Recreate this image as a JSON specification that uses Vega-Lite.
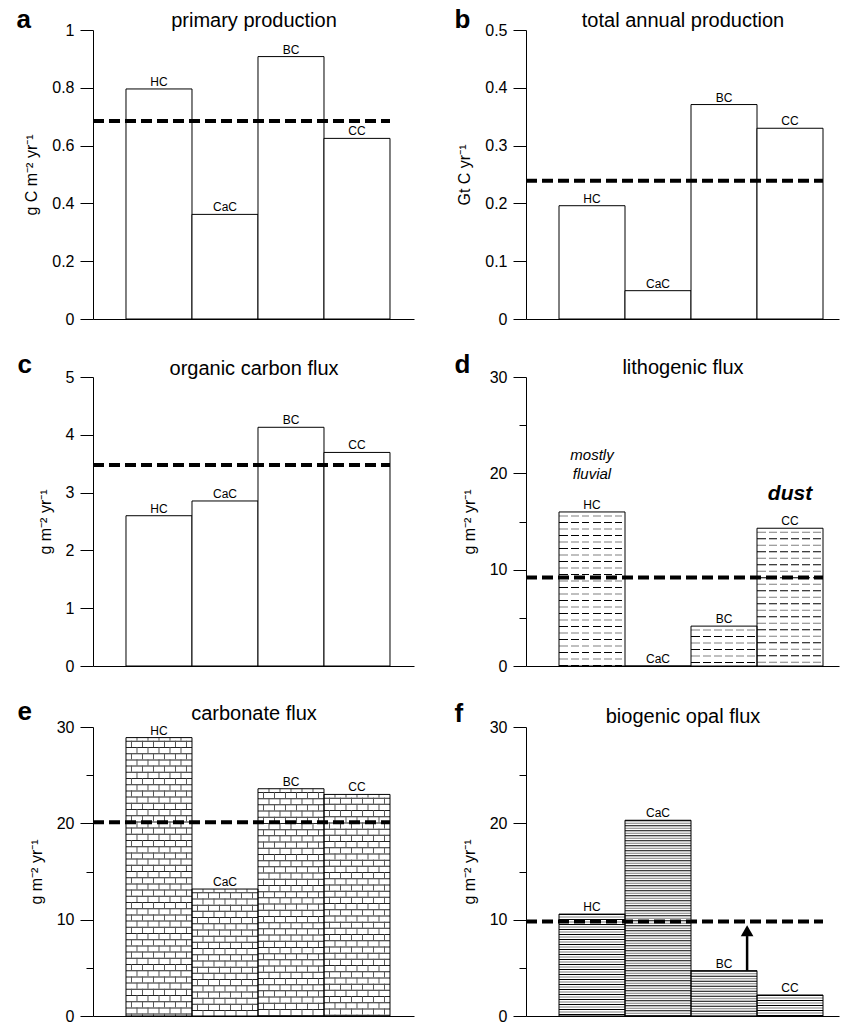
{
"$schema":"https://vega.github.io/schema/vega-lite/v6.json",
"background":"white",
"padding":{"left":16,"top":6,"right":5,"bottom":0},
"config":{"view":{"stroke":null},"font":"Liberation Sans","axis":{"grid":false}},
"datasets":{
"a":[{"cat":"HC","value":0.796},{"cat":"CaC","value":0.362},{"cat":"BC","value":0.908},{"cat":"CC","value":0.625}],
"a_mean":[{"mean":0.685,"from":"HC","to":"CC"}],
"b":[{"cat":"HC","value":0.196},{"cat":"CaC","value":0.049},{"cat":"BC","value":0.371},{"cat":"CC","value":0.330}],
"b_mean":[{"mean":0.239,"from":"HC","to":"CC"}],
"c":[{"cat":"HC","value":2.60},{"cat":"CaC","value":2.855},{"cat":"BC","value":4.13},{"cat":"CC","value":3.695}],
"c_mean":[{"mean":3.477,"from":"HC","to":"CC"}],
"d":[{"cat":"HC","value":15.99},{"cat":"CaC","value":0},{"cat":"BC","value":4.14},{"cat":"CC","value":14.3}],
"d_mean":[{"mean":9.18,"from":"HC","to":"CC"}],
"d_fluvial":[{"cat":"HC","y":21.38,"note":"mostly\nfluvial"}],
"d_dust":[{"cat":"CC","y":17.26,"note":"dust"}],
"e":[{"cat":"HC","value":28.9},{"cat":"CaC","value":13.18},{"cat":"BC","value":23.59},{"cat":"CC","value":23.0}],
"e_mean":[{"mean":20.12,"from":"HC","to":"CC"}],
"f":[{"cat":"HC","value":10.58},{"cat":"CaC","value":20.32},{"cat":"BC","value":4.71},{"cat":"CC","value":2.18}],
"f_mean":[{"mean":9.81,"from":"HC","to":"CC"}],
"f_arrow":[{"cat":"BC","from":4.71,"to":8.3,"head":8.85}]
},
"spacing":24,
"vconcat":[
{"hconcat":[
{"width":321,"height":289,"resolve":{"axis":{"x":"independent"}},
"layer":[
{"layer":[
{"data":{"name":"a"},"mark":{"type":"bar","fill":"white","stroke":"black","strokeWidth":1},
"encoding":{"x":{"field":"cat","type":"nominal","scale":{"domain":["HC","CaC","BC","CC"],"paddingInner":0,"paddingOuter":0.4318,"align":0.5789},
"axis":{"orient":"bottom","labels":false,"ticks":false,"domain":true,"domainColor":"black","domainWidth":1,"title":"a","titleX":-77,"titleY":-292,"titleAlign":"left","titleAngle":0,"titleBaseline":"alphabetic","titleFontSize":26,"titleFontWeight":"bold","titleColor":"black"}},
"y":{"field":"value","type":"quantitative","scale":{"domain":[0,1],"nice":false},
"axis":{"values":[0,0.1,0.2,0.3,0.4,0.5,0.6,0.7,0.8,0.9,1],"format":"~g","labelExpr":"round(datum.value*10)%2==0 ? datum.label : ''","labelOverlap":false,"labelFlush":false,"tickSize":{"condition":{"test":"round(datum.value*10)%2==0","value":13},"value":7},"tickColor":"black","tickWidth":1,"domainColor":"black","labelPadding":6,"labelFontSize":16,"labelColor":"black","title":"g C m⁻² yr⁻¹","titleFontSize":16,"titleFontWeight":"normal","titleColor":"black","titlePadding":12}}}},
{"data":{"name":"a_mean"},"mark":{"type":"rule","stroke":"black","strokeWidth":4,"strokeDash":[11,5]},
"encoding":{"x":{"field":"from","type":"nominal","bandPosition":-0.5,"scale":{"domain":["HC","CaC","BC","CC"],"paddingInner":0,"paddingOuter":0.4318,"align":0.5789}},"x2":{"field":"to","bandPosition":1},"y":{"field":"mean","type":"quantitative"}}}
]},
{"data":{"name":"a"},"mark":{"type":"text","fontSize":12,"baseline":"alphabetic","dy":-3,"color":"black"},
"encoding":{"x":{"field":"cat","type":"nominal","scale":{"domain":["HC","CaC","BC","CC"],"paddingInner":0,"paddingOuter":0.4318,"align":0.5789},"axis":{"orient":"top","labels":false,"ticks":false,"domain":false,"title":"primary production","titleFontSize":20,"titleFontWeight":"normal","titleColor":"black","titleBaseline":"alphabetic","titlePadding":4}},"y":{"field":"value","type":"quantitative"},"text":{"field":"cat"}}}
]},
{"width":313,"height":289,"resolve":{"axis":{"x":"independent"}},
"layer":[
{"layer":[
{"data":{"name":"b"},"mark":{"type":"bar","fill":"white","stroke":"black","strokeWidth":1},
"encoding":{"x":{"field":"cat","type":"nominal","scale":{"domain":["HC","CaC","BC","CC"],"paddingInner":0,"paddingOuter":0.3712,"align":0.6735},
"axis":{"orient":"bottom","labels":false,"ticks":false,"domain":true,"domainColor":"black","domainWidth":1,"title":"b","titleX":-72,"titleY":-292,"titleAlign":"left","titleAngle":0,"titleBaseline":"alphabetic","titleFontSize":26,"titleFontWeight":"bold","titleColor":"black"}},
"y":{"field":"value","type":"quantitative","scale":{"domain":[0,0.5],"nice":false},
"axis":{"values":[0,0.05,0.1,0.15,0.2,0.25,0.3,0.35,0.4,0.45,0.5],"format":"~g","labelExpr":"round(datum.value*20)%2==0 ? datum.label : ''","labelOverlap":false,"labelFlush":false,"tickSize":{"condition":{"test":"round(datum.value*20)%2==0","value":13},"value":7},"tickColor":"black","tickWidth":1,"domainColor":"black","labelPadding":6,"labelFontSize":16,"labelColor":"black","title":"Gt C yr⁻¹","titleFontSize":16,"titleFontWeight":"normal","titleColor":"black","titlePadding":12}}}},
{"data":{"name":"b_mean"},"mark":{"type":"rule","stroke":"black","strokeWidth":4,"strokeDash":[11,5]},
"encoding":{"x":{"field":"from","type":"nominal","bandPosition":-0.5,"scale":{"domain":["HC","CaC","BC","CC"],"paddingInner":0,"paddingOuter":0.3712,"align":0.6735}},"x2":{"field":"to","bandPosition":1},"y":{"field":"mean","type":"quantitative"}}}
]},
{"data":{"name":"b"},"mark":{"type":"text","fontSize":12,"baseline":"alphabetic","dy":-3,"color":"black"},
"encoding":{"x":{"field":"cat","type":"nominal","scale":{"domain":["HC","CaC","BC","CC"],"paddingInner":0,"paddingOuter":0.3712,"align":0.6735},"axis":{"orient":"top","labels":false,"ticks":false,"domain":false,"title":"total annual production","titleFontSize":20,"titleFontWeight":"normal","titleColor":"black","titleBaseline":"alphabetic","titlePadding":4}},"y":{"field":"value","type":"quantitative"},"text":{"field":"cat"}}}
]}
],"spacing":40},
{"hconcat":[
{"width":321,"height":289,"resolve":{"axis":{"x":"independent"}},
"layer":[
{"layer":[
{"data":{"name":"c"},"mark":{"type":"bar","fill":"white","stroke":"black","strokeWidth":1},
"encoding":{"x":{"field":"cat","type":"nominal","scale":{"domain":["HC","CaC","BC","CC"],"paddingInner":0,"paddingOuter":0.4318,"align":0.5789},
"axis":{"orient":"bottom","labels":false,"ticks":false,"domain":true,"domainColor":"black","domainWidth":1,"title":"c","titleX":-76,"titleY":-294,"titleAlign":"left","titleAngle":0,"titleBaseline":"alphabetic","titleFontSize":26,"titleFontWeight":"bold","titleColor":"black"}},
"y":{"field":"value","type":"quantitative","scale":{"domain":[0,5],"nice":false},
"axis":{"values":[0,0.5,1,1.5,2,2.5,3,3.5,4,4.5,5],"format":"~g","labelExpr":"round(datum.value*2)%2==0 ? datum.label : ''","labelOverlap":false,"labelFlush":false,"tickSize":{"condition":{"test":"round(datum.value*2)%2==0","value":13},"value":7},"tickColor":"black","tickWidth":1,"domainColor":"black","labelPadding":6,"labelFontSize":16,"labelColor":"black","title":"g m⁻² yr⁻¹","titleFontSize":16,"titleFontWeight":"normal","titleColor":"black","titlePadding":12}}}},
{"data":{"name":"c_mean"},"mark":{"type":"rule","stroke":"black","strokeWidth":4,"strokeDash":[11,5]},
"encoding":{"x":{"field":"from","type":"nominal","bandPosition":-0.5,"scale":{"domain":["HC","CaC","BC","CC"],"paddingInner":0,"paddingOuter":0.4318,"align":0.5789}},"x2":{"field":"to","bandPosition":1},"y":{"field":"mean","type":"quantitative"}}}
]},
{"data":{"name":"c"},"mark":{"type":"text","fontSize":12,"baseline":"alphabetic","dy":-3,"color":"black"},
"encoding":{"x":{"field":"cat","type":"nominal","scale":{"domain":["HC","CaC","BC","CC"],"paddingInner":0,"paddingOuter":0.4318,"align":0.5789},"axis":{"orient":"top","labels":false,"ticks":false,"domain":false,"title":"organic carbon flux","titleFontSize":20,"titleFontWeight":"normal","titleColor":"black","titleBaseline":"alphabetic","titlePadding":3}},"y":{"field":"value","type":"quantitative"},"text":{"field":"cat"}}}
]},
{"width":313,"height":289,"resolve":{"axis":{"x":"independent"}},
"layer":[
{"layer":[
{"data":{"name":"d"},"mark":{"type":"rule","clip":true,"stroke":"black","strokeWidth":66,"strokeDash":[1,12],"strokeDashOffset":3},
"encoding":{"x":{"field":"cat","type":"nominal","scale":{"domain":["HC","CaC","BC","CC"],"paddingInner":0,"paddingOuter":0.3712,"align":0.6735}},"y":{"field":"value","type":"quantitative"},"y2":{"datum":0}}},
{"data":{"name":"d"},"mark":{"type":"rule","clip":true,"stroke":"#808080","strokeWidth":66,"strokeDash":[1,12],"strokeDashOffset":9.5},
"encoding":{"x":{"field":"cat","type":"nominal","scale":{"domain":["HC","CaC","BC","CC"],"paddingInner":0,"paddingOuter":0.3712,"align":0.6735}},"y":{"field":"value","type":"quantitative"},"y2":{"datum":0}}},
{"data":{"name":"d"},"mark":{"type":"bar","strokeWidth":0,"fill":{"gradient":"linear","x1":0,"y1":0,"x2":1,"y2":0,"stops":[
{"offset":0,"color":"rgba(255,255,255,0)"},
{"offset":0.1288,"color":"rgba(255,255,255,0)"},{"offset":0.1288,"color":"#ffffff"},{"offset":0.1818,"color":"#ffffff"},{"offset":0.1818,"color":"rgba(255,255,255,0)"},
{"offset":0.2955,"color":"rgba(255,255,255,0)"},{"offset":0.2955,"color":"#ffffff"},{"offset":0.3485,"color":"#ffffff"},{"offset":0.3485,"color":"rgba(255,255,255,0)"},
{"offset":0.4621,"color":"rgba(255,255,255,0)"},{"offset":0.4621,"color":"#ffffff"},{"offset":0.5152,"color":"#ffffff"},{"offset":0.5152,"color":"rgba(255,255,255,0)"},
{"offset":0.6288,"color":"rgba(255,255,255,0)"},{"offset":0.6288,"color":"#ffffff"},{"offset":0.6818,"color":"#ffffff"},{"offset":0.6818,"color":"rgba(255,255,255,0)"},
{"offset":0.7955,"color":"rgba(255,255,255,0)"},{"offset":0.7955,"color":"#ffffff"},{"offset":0.8485,"color":"#ffffff"},{"offset":0.8485,"color":"rgba(255,255,255,0)"},
{"offset":0.9621,"color":"rgba(255,255,255,0)"},{"offset":0.9621,"color":"#ffffff"},{"offset":1,"color":"#ffffff"}]}},
"encoding":{"x":{"field":"cat","type":"nominal","scale":{"domain":["HC","CaC","BC","CC"],"paddingInner":0,"paddingOuter":0.3712,"align":0.6735}},"y":{"field":"value","type":"quantitative"}}},
{"data":{"name":"d"},"mark":{"type":"bar","fill":"transparent","stroke":"black","strokeWidth":1},
"encoding":{"x":{"field":"cat","type":"nominal","scale":{"domain":["HC","CaC","BC","CC"],"paddingInner":0,"paddingOuter":0.3712,"align":0.6735},
"axis":{"orient":"bottom","labels":false,"ticks":false,"domain":true,"domainColor":"black","domainWidth":1,"title":"d","titleX":-72,"titleY":-294,"titleAlign":"left","titleAngle":0,"titleBaseline":"alphabetic","titleFontSize":26,"titleFontWeight":"bold","titleColor":"black"}},
"y":{"field":"value","type":"quantitative","scale":{"domain":[0,30],"nice":false},
"axis":{"values":[0,5,10,15,20,25,30],"format":"~g","labelExpr":"round(datum.value/5)%2==0 ? datum.label : ''","labelOverlap":false,"labelFlush":false,"tickSize":{"condition":{"test":"round(datum.value/5)%2==0","value":13},"value":7},"tickColor":"black","tickWidth":1,"domainColor":"black","labelPadding":6,"labelFontSize":16,"labelColor":"black","title":"g m⁻² yr⁻¹","titleFontSize":16,"titleFontWeight":"normal","titleColor":"black","titlePadding":12}}}},
{"data":{"name":"d_mean"},"mark":{"type":"rule","stroke":"black","strokeWidth":4,"strokeDash":[11,5]},
"encoding":{"x":{"field":"from","type":"nominal","bandPosition":-0.5,"scale":{"domain":["HC","CaC","BC","CC"],"paddingInner":0,"paddingOuter":0.3712,"align":0.6735}},"x2":{"field":"to","bandPosition":1},"y":{"field":"mean","type":"quantitative"}}},
{"data":{"name":"d_fluvial"},"mark":{"type":"text","fontSize":15,"fontStyle":"italic","baseline":"alphabetic","lineBreak":"\n","lineHeight":19,"color":"black"},
"encoding":{"x":{"field":"cat","type":"nominal","scale":{"domain":["HC","CaC","BC","CC"],"paddingInner":0,"paddingOuter":0.3712,"align":0.6735}},"y":{"field":"y","type":"quantitative"},"text":{"field":"note"}}},
{"data":{"name":"d_dust"},"mark":{"type":"text","fontSize":21,"fontStyle":"italic","fontWeight":"bold","baseline":"alphabetic","color":"black"},
"encoding":{"x":{"field":"cat","type":"nominal","scale":{"domain":["HC","CaC","BC","CC"],"paddingInner":0,"paddingOuter":0.3712,"align":0.6735}},"y":{"field":"y","type":"quantitative"},"text":{"field":"note"}}}
]},
{"data":{"name":"d"},"mark":{"type":"text","fontSize":12,"baseline":"alphabetic","dy":-3,"color":"black"},
"encoding":{"x":{"field":"cat","type":"nominal","scale":{"domain":["HC","CaC","BC","CC"],"paddingInner":0,"paddingOuter":0.3712,"align":0.6735},"axis":{"orient":"top","labels":false,"ticks":false,"domain":false,"title":"lithogenic flux","titleFontSize":20,"titleFontWeight":"normal","titleColor":"black","titleBaseline":"alphabetic","titlePadding":4}},"y":{"field":"value","type":"quantitative"},"text":{"field":"cat"}}}
]}
],"spacing":40},
{"hconcat":[
{"width":321,"height":289,"resolve":{"axis":{"x":"independent"}},
"layer":[
{"layer":[
{"data":{"name":"e"},"mark":{"type":"rule","clip":true,"stroke":"#222222","strokeWidth":66,"strokeDash":[1,5.2],"strokeDashOffset":3},
"encoding":{"x":{"field":"cat","type":"nominal","scale":{"domain":["HC","CaC","BC","CC"],"paddingInner":0,"paddingOuter":0.4318,"align":0.5789}},"y":{"field":"value","type":"quantitative"},"y2":{"datum":0}}},
{"data":{"name":"e"},"mark":{"type":"rule","stroke":"#555555","strokeWidth":1,"strokeDash":[6.2,6.2],"strokeDashOffset":3},
"encoding":{"x":{"field":"cat","type":"nominal","bandPosition":0.1667,"scale":{"domain":["HC","CaC","BC","CC"],"paddingInner":0,"paddingOuter":0.4318,"align":0.5789}},"y":{"field":"value","type":"quantitative"},"y2":{"datum":0}}},
{"data":{"name":"e"},"mark":{"type":"rule","stroke":"#555555","strokeWidth":1,"strokeDash":[6.2,6.2],"strokeDashOffset":3},
"encoding":{"x":{"field":"cat","type":"nominal","bandPosition":0.3333,"scale":{"domain":["HC","CaC","BC","CC"],"paddingInner":0,"paddingOuter":0.4318,"align":0.5789}},"y":{"field":"value","type":"quantitative"},"y2":{"datum":0}}},
{"data":{"name":"e"},"mark":{"type":"rule","stroke":"#555555","strokeWidth":1,"strokeDash":[6.2,6.2],"strokeDashOffset":3},
"encoding":{"x":{"field":"cat","type":"nominal","bandPosition":0.5,"scale":{"domain":["HC","CaC","BC","CC"],"paddingInner":0,"paddingOuter":0.4318,"align":0.5789}},"y":{"field":"value","type":"quantitative"},"y2":{"datum":0}}},
{"data":{"name":"e"},"mark":{"type":"rule","stroke":"#555555","strokeWidth":1,"strokeDash":[6.2,6.2],"strokeDashOffset":3},
"encoding":{"x":{"field":"cat","type":"nominal","bandPosition":0.6667,"scale":{"domain":["HC","CaC","BC","CC"],"paddingInner":0,"paddingOuter":0.4318,"align":0.5789}},"y":{"field":"value","type":"quantitative"},"y2":{"datum":0}}},
{"data":{"name":"e"},"mark":{"type":"rule","stroke":"#555555","strokeWidth":1,"strokeDash":[6.2,6.2],"strokeDashOffset":3},
"encoding":{"x":{"field":"cat","type":"nominal","bandPosition":0.8333,"scale":{"domain":["HC","CaC","BC","CC"],"paddingInner":0,"paddingOuter":0.4318,"align":0.5789}},"y":{"field":"value","type":"quantitative"},"y2":{"datum":0}}},
{"data":{"name":"e"},"mark":{"type":"rule","stroke":"#555555","strokeWidth":1,"strokeDash":[6.2,6.2],"strokeDashOffset":9.2},
"encoding":{"x":{"field":"cat","type":"nominal","bandPosition":0.0833,"scale":{"domain":["HC","CaC","BC","CC"],"paddingInner":0,"paddingOuter":0.4318,"align":0.5789}},"y":{"field":"value","type":"quantitative"},"y2":{"datum":0}}},
{"data":{"name":"e"},"mark":{"type":"rule","stroke":"#555555","strokeWidth":1,"strokeDash":[6.2,6.2],"strokeDashOffset":9.2},
"encoding":{"x":{"field":"cat","type":"nominal","bandPosition":0.25,"scale":{"domain":["HC","CaC","BC","CC"],"paddingInner":0,"paddingOuter":0.4318,"align":0.5789}},"y":{"field":"value","type":"quantitative"},"y2":{"datum":0}}},
{"data":{"name":"e"},"mark":{"type":"rule","stroke":"#555555","strokeWidth":1,"strokeDash":[6.2,6.2],"strokeDashOffset":9.2},
"encoding":{"x":{"field":"cat","type":"nominal","bandPosition":0.4167,"scale":{"domain":["HC","CaC","BC","CC"],"paddingInner":0,"paddingOuter":0.4318,"align":0.5789}},"y":{"field":"value","type":"quantitative"},"y2":{"datum":0}}},
{"data":{"name":"e"},"mark":{"type":"rule","stroke":"#555555","strokeWidth":1,"strokeDash":[6.2,6.2],"strokeDashOffset":9.2},
"encoding":{"x":{"field":"cat","type":"nominal","bandPosition":0.5833,"scale":{"domain":["HC","CaC","BC","CC"],"paddingInner":0,"paddingOuter":0.4318,"align":0.5789}},"y":{"field":"value","type":"quantitative"},"y2":{"datum":0}}},
{"data":{"name":"e"},"mark":{"type":"rule","stroke":"#555555","strokeWidth":1,"strokeDash":[6.2,6.2],"strokeDashOffset":9.2},
"encoding":{"x":{"field":"cat","type":"nominal","bandPosition":0.75,"scale":{"domain":["HC","CaC","BC","CC"],"paddingInner":0,"paddingOuter":0.4318,"align":0.5789}},"y":{"field":"value","type":"quantitative"},"y2":{"datum":0}}},
{"data":{"name":"e"},"mark":{"type":"rule","stroke":"#555555","strokeWidth":1,"strokeDash":[6.2,6.2],"strokeDashOffset":9.2},
"encoding":{"x":{"field":"cat","type":"nominal","bandPosition":0.9167,"scale":{"domain":["HC","CaC","BC","CC"],"paddingInner":0,"paddingOuter":0.4318,"align":0.5789}},"y":{"field":"value","type":"quantitative"},"y2":{"datum":0}}},
{"data":{"name":"e"},"mark":{"type":"bar","fill":"transparent","stroke":"black","strokeWidth":1},
"encoding":{"x":{"field":"cat","type":"nominal","scale":{"domain":["HC","CaC","BC","CC"],"paddingInner":0,"paddingOuter":0.4318,"align":0.5789},
"axis":{"orient":"bottom","labels":false,"ticks":false,"domain":true,"domainColor":"black","domainWidth":1,"title":"e","titleX":-76,"titleY":-297,"titleAlign":"left","titleAngle":0,"titleBaseline":"alphabetic","titleFontSize":26,"titleFontWeight":"bold","titleColor":"black"}},
"y":{"field":"value","type":"quantitative","scale":{"domain":[0,30],"nice":false},
"axis":{"values":[0,5,10,15,20,25,30],"format":"~g","labelExpr":"round(datum.value/5)%2==0 ? datum.label : ''","labelOverlap":false,"labelFlush":false,"tickSize":{"condition":{"test":"round(datum.value/5)%2==0","value":13},"value":7},"tickColor":"black","tickWidth":1,"domainColor":"black","labelPadding":6,"labelFontSize":16,"labelColor":"black","title":"g m⁻² yr⁻¹","titleFontSize":16,"titleFontWeight":"normal","titleColor":"black","titlePadding":12}}}},
{"data":{"name":"e_mean"},"mark":{"type":"rule","stroke":"black","strokeWidth":4,"strokeDash":[11,5]},
"encoding":{"x":{"field":"from","type":"nominal","bandPosition":-0.5,"scale":{"domain":["HC","CaC","BC","CC"],"paddingInner":0,"paddingOuter":0.4318,"align":0.5789}},"x2":{"field":"to","bandPosition":1},"y":{"field":"mean","type":"quantitative"}}}
]},
{"data":{"name":"e"},"mark":{"type":"text","fontSize":12,"baseline":"alphabetic","dy":-3,"color":"black"},
"encoding":{"x":{"field":"cat","type":"nominal","scale":{"domain":["HC","CaC","BC","CC"],"paddingInner":0,"paddingOuter":0.4318,"align":0.5789},"axis":{"orient":"top","labels":false,"ticks":false,"domain":false,"title":"carbonate flux","titleFontSize":20,"titleFontWeight":"normal","titleColor":"black","titleBaseline":"alphabetic","titlePadding":8}},"y":{"field":"value","type":"quantitative"},"text":{"field":"cat"}}}
]},
{"width":313,"height":289,"resolve":{"axis":{"x":"independent"}},
"layer":[
{"layer":[
{"data":{"name":"f"},"mark":{"type":"rule","clip":true,"stroke":"black","strokeWidth":66,"strokeDash":[1,4]},
"encoding":{"x":{"field":"cat","type":"nominal","scale":{"domain":["HC","CaC","BC","CC"],"paddingInner":0,"paddingOuter":0.3712,"align":0.6735}},"y":{"field":"value","type":"quantitative"},"y2":{"datum":0}}},
{"data":{"name":"f"},"mark":{"type":"rule","clip":true,"stroke":"#808080","strokeWidth":66,"strokeDash":[1,4],"strokeDashOffset":2.5},
"encoding":{"x":{"field":"cat","type":"nominal","scale":{"domain":["HC","CaC","BC","CC"],"paddingInner":0,"paddingOuter":0.3712,"align":0.6735}},"y":{"field":"value","type":"quantitative"},"y2":{"datum":0}}},
{"data":{"name":"f"},"mark":{"type":"bar","fill":"transparent","stroke":"black","strokeWidth":1},
"encoding":{"x":{"field":"cat","type":"nominal","scale":{"domain":["HC","CaC","BC","CC"],"paddingInner":0,"paddingOuter":0.3712,"align":0.6735},
"axis":{"orient":"bottom","labels":false,"ticks":false,"domain":true,"domainColor":"black","domainWidth":1,"title":"f","titleX":-72,"titleY":-295,"titleAlign":"left","titleAngle":0,"titleBaseline":"alphabetic","titleFontSize":26,"titleFontWeight":"bold","titleColor":"black"}},
"y":{"field":"value","type":"quantitative","scale":{"domain":[0,30],"nice":false},
"axis":{"values":[0,5,10,15,20,25,30],"format":"~g","labelExpr":"round(datum.value/5)%2==0 ? datum.label : ''","labelOverlap":false,"labelFlush":false,"tickSize":{"condition":{"test":"round(datum.value/5)%2==0","value":13},"value":7},"tickColor":"black","tickWidth":1,"domainColor":"black","labelPadding":6,"labelFontSize":16,"labelColor":"black","title":"g m⁻² yr⁻¹","titleFontSize":16,"titleFontWeight":"normal","titleColor":"black","titlePadding":12}}}},
{"data":{"name":"f_mean"},"mark":{"type":"rule","stroke":"black","strokeWidth":4,"strokeDash":[11,5]},
"encoding":{"x":{"field":"from","type":"nominal","bandPosition":-0.5,"scale":{"domain":["HC","CaC","BC","CC"],"paddingInner":0,"paddingOuter":0.3712,"align":0.6735}},"x2":{"field":"to","bandPosition":1},"y":{"field":"mean","type":"quantitative"}}},
{"data":{"name":"f_arrow"},"mark":{"type":"rule","stroke":"black","strokeWidth":2.5},
"encoding":{"x":{"field":"cat","type":"nominal","bandPosition":0.85,"scale":{"domain":["HC","CaC","BC","CC"],"paddingInner":0,"paddingOuter":0.3712,"align":0.6735}},"y":{"field":"from","type":"quantitative"},"y2":{"field":"to"}}},
{"data":{"name":"f_arrow"},"mark":{"type":"point","shape":"triangle-up","size":160,"filled":true,"color":"black","opacity":1},
"encoding":{"x":{"field":"cat","type":"nominal","bandPosition":0.85,"scale":{"domain":["HC","CaC","BC","CC"],"paddingInner":0,"paddingOuter":0.3712,"align":0.6735}},"y":{"field":"head","type":"quantitative"}}}
]},
{"data":{"name":"f"},"mark":{"type":"text","fontSize":12,"baseline":"alphabetic","dy":-3,"color":"black"},
"encoding":{"x":{"field":"cat","type":"nominal","scale":{"domain":["HC","CaC","BC","CC"],"paddingInner":0,"paddingOuter":0.3712,"align":0.6735},"axis":{"orient":"top","labels":false,"ticks":false,"domain":false,"title":"biogenic opal flux","titleFontSize":20,"titleFontWeight":"normal","titleColor":"black","titleBaseline":"alphabetic","titlePadding":5}},"y":{"field":"value","type":"quantitative"},"text":{"field":"cat"}}}
]}
],"spacing":40}
]
}
